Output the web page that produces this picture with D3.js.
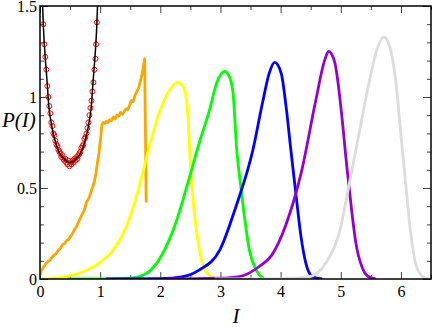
<!DOCTYPE html>
<html lang="en">
<head>
    <meta charset="UTF-8">
    <title>P(I) distributions</title>
    <script src="https://d3js.org/d3.v7.min.js"></script>
    <style>
      body { margin: 0; background: #fff; }
      text { font-family: "Liberation Serif", "Times New Roman", serif; }
    </style>
</head>
<body>
<svg id="chart" width="432" height="327"></svg>
<script>
  // black theory curve
  let blackI = [0.044, 0.055, 0.072, 0.088, 0.105, 0.121, 0.144, 0.18, 0.22, 0.26, 0.30, 0.35, 0.40, 0.45, 0.50,
                0.55, 0.60, 0.65, 0.70, 0.74, 0.78, 0.82, 0.856, 0.879, 0.895, 0.912, 0.928, 0.945, 0.956]
  let blackP = [1.50, 1.40, 1.29, 1.21, 1.14, 1.07, 0.96, 0.87, 0.80, 0.75, 0.71, 0.68, 0.66, 0.645, 0.64,
                0.645, 0.66, 0.68, 0.71, 0.75, 0.80, 0.87, 0.96, 1.07, 1.14, 1.21, 1.29, 1.40, 1.50]

  // red open circles
  let circI = [0.055,0.072,0.088,0.105,0.122,0.138,0.155,0.172,0.188,0.205,0.222,0.238,0.255,0.272,0.288,0.305,
               0.322,0.338,0.355,0.372,0.388,0.405,0.422,0.438,0.455,0.472,0.488,0.505,0.522,0.538,0.555,0.572,
               0.588,0.605,0.622,0.638,0.655,0.672,0.688,0.705,0.722,0.738,0.755,0.772,0.788,0.805,0.822,0.838,
               0.855,0.872,0.888,0.905,0.922,0.932,0.945]
  let circP = [1.40,1.29,1.22,1.15,1.06,1.00,0.95,0.91,0.86,0.84,0.80,0.79,0.76,0.74,0.73,0.71,
               0.70,0.69,0.67,0.68,0.66,0.65,0.66,0.64,0.63,0.65,0.62,0.64,0.63,0.65,0.64,0.66,
               0.65,0.67,0.66,0.68,0.69,0.70,0.72,0.73,0.74,0.77,0.78,0.80,0.83,0.86,0.90,0.94,
               0.98,1.03,1.08,1.15,1.21,1.29,1.41]

  let orangeI = [0, 0.02, 0.05, 0.08, 0.10, 0.13, 0.17, 0.20, 0.23, 0.27, 0.30, 0.34, 0.38, 0.41, 0.44, 0.47, 0.50,
                 0.54, 0.57, 0.61, 0.65, 0.70, 0.74, 0.77, 0.82, 0.86, 0.90, 0.93, 0.96, 0.98, 1.01, 1.03, 1.05,
                 1.08, 1.10, 1.13, 1.16, 1.19, 1.22, 1.25, 1.28, 1.31, 1.34, 1.37, 1.40, 1.43, 1.46, 1.49, 1.52,
                 1.55, 1.58, 1.61, 1.64, 1.67, 1.70, 1.72, 1.74, 1.765]
  let orangeP = [0.02, 0.045, 0.06, 0.075, 0.086, 0.095, 0.104, 0.12, 0.13, 0.14, 0.155, 0.17, 0.19, 0.195, 0.21, 0.215, 0.23,
                 0.25, 0.27, 0.29, 0.32, 0.355, 0.38, 0.42, 0.45, 0.49, 0.53, 0.58, 0.65, 0.69, 0.78, 0.85, 0.86,
                 0.855, 0.865, 0.86, 0.875, 0.87, 0.89, 0.88, 0.90, 0.895, 0.915, 0.905, 0.92, 0.935, 0.93, 0.955, 0.98,
                 0.975, 1.01, 1.03, 1.05, 1.09, 1.13, 1.17, 1.21, 0.42]

  let yellowI = [0, 0.2, 0.44, 0.72, 1.0, 1.22, 1.44, 1.66, 1.82, 1.99, 2.16, 2.29, 2.39, 2.45, 2.50, 2.56, 2.65, 2.76, 2.90]
  let yellowP = [0, 0.003, 0.013, 0.04, 0.09, 0.16, 0.29, 0.52, 0.73, 0.92, 1.04, 1.08, 1.05, 0.94, 0.64, 0.38, 0.16, 0.04, 0.005]

  let greenI = [0.46, 1.0, 1.49, 1.77, 2.04, 2.27, 2.46, 2.65, 2.82, 2.93, 3.07, 3.15, 3.21, 3.27, 3.33, 3.40, 3.48, 3.59, 3.72]
  let greenP = [0, 0, 0.004, 0.03, 0.14, 0.32, 0.53, 0.75, 0.93, 1.07, 1.14, 1.11, 1.02, 0.71, 0.53, 0.34, 0.16, 0.05, 0.003]

  let blueI = [1.1, 2.0, 2.38, 2.65, 2.99, 3.26, 3.54, 3.70, 3.81, 3.90, 4.01, 4.09, 4.17, 4.26, 4.34, 4.42, 4.53, 4.69]
  let blueP = [0, 0.002, 0.013, 0.05, 0.16, 0.40, 0.71, 0.97, 1.13, 1.19, 1.13, 0.95, 0.71, 0.45, 0.23, 0.086, 0.013, 0]

  let purpleI = [2.1, 2.99, 3.32, 3.65, 3.85, 4.09, 4.34, 4.59, 4.73, 4.80, 4.90, 5.01, 5.10, 5.18, 5.25, 5.36, 5.45, 5.58]
  let purpleP = [0, 0.004, 0.013, 0.07, 0.13, 0.30, 0.58, 0.99, 1.20, 1.25, 1.19, 0.92, 0.62, 0.38, 0.20, 0.06, 0.015, 0]

  let grayI = [2.9, 4.0, 4.48, 4.75, 4.98, 5.14, 5.31, 5.47, 5.61, 5.71, 5.80, 5.92, 6.00, 6.08, 6.16, 6.25, 6.36, 6.47]
  let grayP = [0, 0.001, 0.013, 0.086, 0.26, 0.52, 0.81, 1.08, 1.27, 1.33, 1.29, 1.07, 0.79, 0.52, 0.26, 0.077, 0.013, 0]

  let xMajor = [0, 1, 2, 3, 4, 5, 6]
  let xMinor = [0.5, 1.5, 2.5, 3.5, 4.5, 5.5, 6.5]
  let yMajor = [0, 0.5, 1, 1.5]
  let yMinor = [0.1, 0.2, 0.3, 0.4, 0.6, 0.7, 0.8, 0.9, 1.1, 1.2, 1.3, 1.4]

  let svg = d3.select("#chart")
  let xScale = d3.scaleLinear().domain([0, 6.5]).range([40, 431])
  let yScale = d3.scaleLinear().domain([0, 1.5]).range([279, 6])

  svg.append("defs").append("clipPath").attr("id", "plotClip")
    .append("rect").attr("x", 40).attr("y", 6).attr("width", 391).attr("height", 273)

  // ticks, all pointing into the plot
  function tickAxis(axis, pos, transform, vals, size, labels) {
    let a = axis(pos).tickValues(vals).tickSize(size).tickSizeOuter(0)
      .tickFormat(labels ? d3.format("~g") : "")
    let g = svg.append("g").attr("transform", transform).call(a)
      .attr("font-family", "'Liberation Serif', 'Times New Roman', serif").attr("font-size", 16)
    g.select(".domain").remove()
    g.selectAll("line").attr("stroke", "#444").attr("stroke-width", 1)
    g.selectAll("text").attr("fill", "#000")
    return g
  }
  tickAxis(d3.axisBottom, xScale, "translate(0,279)", xMajor, -7, true).call(g => g.selectAll("text").attr("y", 7))
  tickAxis(d3.axisBottom, xScale, "translate(0,279)", xMinor, -4, false)
  tickAxis(d3.axisTop, xScale, "translate(0,6)", xMajor, -7, false)
  tickAxis(d3.axisTop, xScale, "translate(0,6)", xMinor, -4, false)
  tickAxis(d3.axisLeft, yScale, "translate(40,0)", yMajor, -8, true)
    .call(g => g.selectAll("text").attr("x", -3).attr("dy", "0.33em"))
  tickAxis(d3.axisLeft, yScale, "translate(40,0)", yMinor, -4, false)
  tickAxis(d3.axisRight, yScale, "translate(431,0)", yMajor, -8, false)
  tickAxis(d3.axisRight, yScale, "translate(431,0)", yMinor, -4, false)

  let plot = svg.append("g").attr("clip-path", "url(#plotClip)")

  let series = [
    {I: orangeI, P: orangeP, color: "#ffa500", curve: d3.curveLinear},
    {I: yellowI, P: yellowP, color: "#ffff00", curve: d3.curveMonotoneX},
    {I: greenI, P: greenP, color: "#00ff00", curve: d3.curveMonotoneX},
    {I: blueI, P: blueP, color: "#0000ff", curve: d3.curveMonotoneX},
    {I: purpleI, P: purpleP, color: "#9400d3", curve: d3.curveMonotoneX},
    {I: grayI, P: grayP, color: "#dcdcdc", curve: d3.curveMonotoneX}
  ]
  series.forEach(s => {
    let line = d3.line().x((d, i) => xScale(s.I[i])).y(d => yScale(d)).curve(s.curve)
    plot.append("path").attr("d", line(s.P))
      .attr("fill", "none").attr("stroke", s.color).attr("stroke-width", 2.8)
      .attr("stroke-linejoin", "round")
  })

  // circles then the black curve on top
  plot.selectAll("circle").data(circP).enter().append("circle")
    .attr("cx", (d, i) => xScale(circI[i]))
    .attr("cy", d => yScale(d))
    .attr("r", 2.5).attr("fill", "none").attr("stroke", "#ff0000").attr("stroke-width", 1)

  let blackLine = d3.line().x((d, i) => xScale(blackI[i])).y(d => yScale(d)).curve(d3.curveMonotoneX)
  plot.append("path").attr("d", blackLine(blackP))
    .attr("fill", "none").attr("stroke", "#000").attr("stroke-width", 1.5)

  // frame
  svg.append("rect").attr("x", 40).attr("y", 6).attr("width", 391).attr("height", 273)
    .attr("fill", "none").attr("stroke", "#000").attr("stroke-width", 1.5)

  svg.append("text").attr("x", 2).attr("y", 127).attr("font-size", 21).attr("font-style", "italic")
    .text("P(I)")
  svg.append("text").attr("x", 236).attr("y", 323).attr("font-size", 21).attr("font-style", "italic")
    .attr("text-anchor", "middle").text("I")
</script>
</body>
</html>
